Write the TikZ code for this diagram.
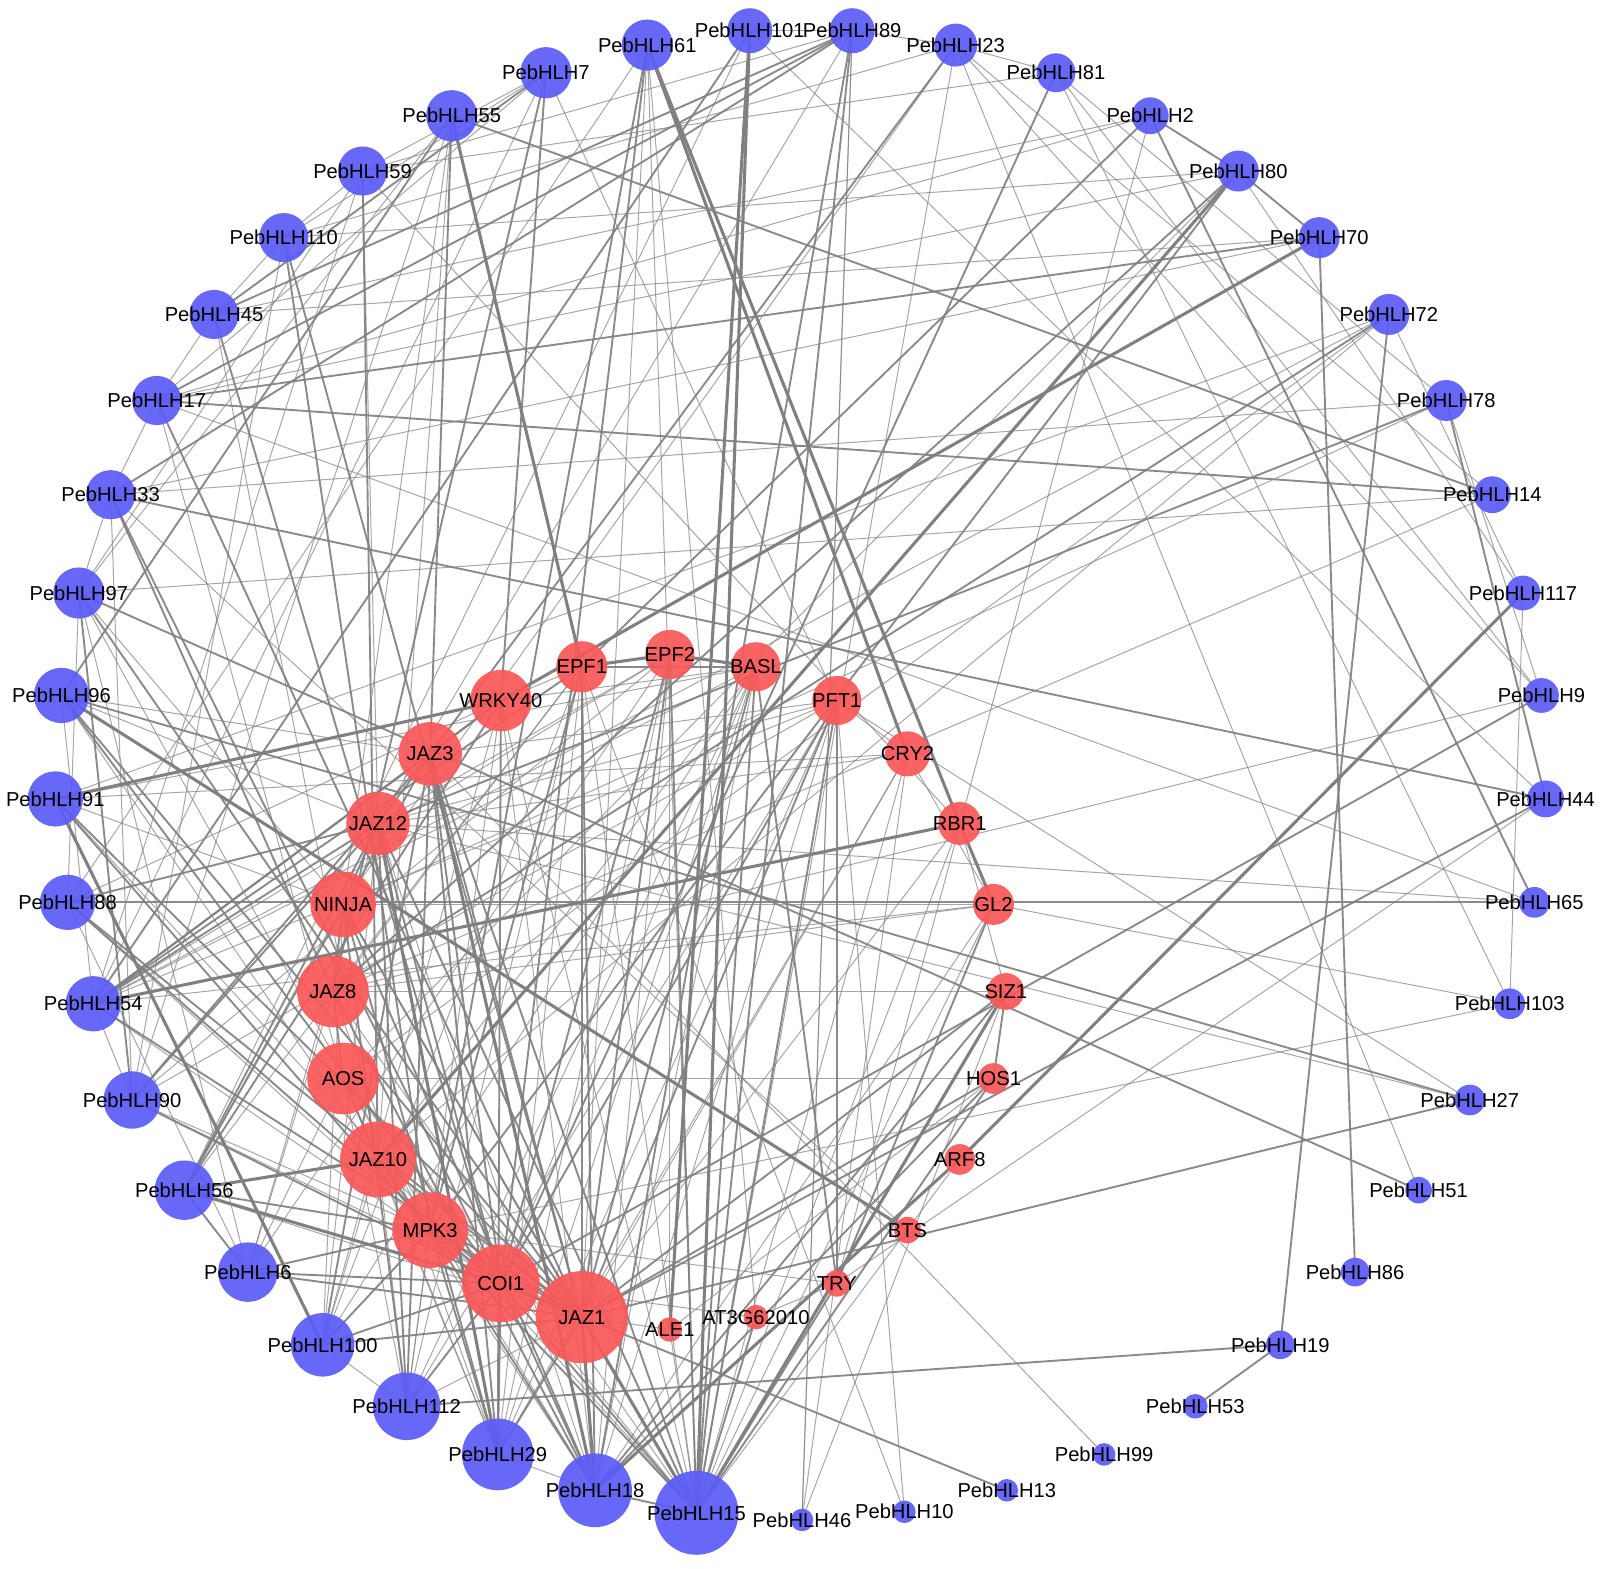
\documentclass[tikz,border=0pt]{standalone}
\usepackage{fontspec}
\setmainfont{Liberation Sans}
\usetikzlibrary{backgrounds}
\definecolor{hlhblue}{RGB}{92,92,248}
\definecolor{genered}{RGB}{250,88,88}
\definecolor{edgegray}{RGB}{128,128,128}
\tikzstyle{hlh} = [circle, fill=hlhblue, fill opacity=0.93, draw=none, inner sep=0pt]
\tikzstyle{gene} = [circle, fill=genered, fill opacity=0.93, draw=none, inner sep=0pt]
\tikzstyle{lbl} = [font=\fontsize{11.2}{13}\selectfont, text=black, inner sep=0pt]
\tikzstyle{edgeweak} = [draw=edgegray, draw opacity=0.7, line width=0.55pt]
\tikzstyle{edgemid} = [draw=edgegray, draw opacity=0.92, line width=1.05pt]
\tikzstyle{edgestrong} = [draw=edgegray, line width=1.7pt]

%% outer ring: name/x/y/radius/label
\def\hlhlist{h61/632/44/25/PebHLH61, h101/732/30/22/PebHLH101, h89/832/30/22/PebHLH89,
  h23/933/44/21/PebHLH23, h81/1031/71/19/PebHLH81, h2/1123/113/18/PebHLH2,
  h80/1209/167/20/PebHLH80, h70/1288/232/20/PebHLH70, h72/1356/307/20/PebHLH72,
  h78/1412/391/20/PebHLH78, h14/1457/483/18/PebHLH14, h117/1487/579/17/PebHLH117,
  h9/1505/679/17/PebHLH9, h44/1509/780/18/PebHLH44, h65/1498/881/15/PebHLH65,
  h103/1474/980/15/PebHLH103, h27/1435/1074/15/PebHLH27, h51/1385/1162/13/PebHLH51,
  h86/1323/1242/14/PebHLH86, h19/1250/1313/14/PebHLH19, h53/1167/1373/12/PebHLH53,
  h99/1078/1420/11/PebHLH99, h13/983/1455/11/PebHLH13, h10/883/1476/11/PebHLH10,
  h46/783/1484/11/PebHLH46, h15/680/1477/41/PebHLH15, h18/581/1455/36/PebHLH18,
  h29/486/1420/35/PebHLH29, h112/397/1373/33/PebHLH112, h100/315/1313/31/PebHLH100,
  h6/242/1242/29/PebHLH6, h56/180/1162/29/PebHLH56, h90/129/1074/28/PebHLH90,
  h54/91/980/27/PebHLH54, h88/66/881/27/PebHLH88, h91/54/780/27/PebHLH91,
  h96/60/679/27/PebHLH96, h97/77/579/25/PebHLH97, h33/108/483/24/PebHLH33,
  h17/153/391/24/PebHLH17, h45/209/307/24/PebHLH45, h110/277/232/24/PebHLH110,
  h59/354/167/24/PebHLH59, h55/441/113/25/PebHLH55, h7/533/71/25/PebHLH7}

%% inner ring
\def\genelist{epf1/568/651/25/EPF1, epf2/654/639/24/EPF2, basl/738/651/24/BASL,
  pft1/817/684/24/PFT1, cry2/886/736/22/CRY2, rbr1/937/804/21/RBR1,
  gl2/970/883/20/GL2, siz1/982/968/18/SIZ1, hos1/970/1053/15/HOS1,
  arf8/937/1132/15/ARF8, bts/886/1201/13/BTS, try/817/1253/13/TRY,
  at3g/738/1286/12/AT3G62010, ale1/654/1298/12/ALE1, jaz1/568/1286/45/JAZ1,
  coi1/489/1253/38/COI1, mpk3/420/1201/37/MPK3, jaz10/369/1132/37/JAZ10,
  aos/335/1053/35/AOS, jaz8/325/968/35/JAZ8, ninja/335/883/32/NINJA,
  jaz12/369/804/31/JAZ12, jaz3/420/736/31/JAZ3, wrky/489/684/30/WRKY40}

\begin{document}
\begin{tikzpicture}[x=0.02cm, y=-0.02cm]
    \useasboundingbox (0,0) rectangle (1568,1531);

    \foreach \n/\x/\y/\r/\lab in \hlhlist
        \node[hlh, minimum size=\r*0.04cm] (\n) at (\x,\y) {};
    \foreach \n/\x/\y/\r/\lab in \genelist
        \node[gene, minimum size=\r*0.04cm] (\n) at (\x,\y) {};

    \begin{pgfonlayer}{background}
    %% weak links
    \foreach \a/\b in {h61/h88, h61/at3g, h61/jaz1, h101/h89, h101/h44, h101/h56, h89/h23,
        h89/h59, h89/h46, h89/jaz12, h23/h81, h23/h51, h23/h14,
        h23/ninja, h23/h15, h23/h110, h81/h78, h81/h103, h81/h9, h81/h59, h2/h17, h2/try,
        h2/h45, h80/h17, h80/aos, h80/h117, h70/h33, h72/h91, h72/aos, h72/jaz10, h72/h54,
        h78/h9, h78/ninja, h78/h33, h14/jaz8, h14/h97, h117/h103, h117/h72, h9/h23, h9/jaz8,
        h44/try, h65/h17, h65/jaz12, h103/mpk3, h103/gl2, h27/pft1, h27/jaz12, h99/jaz3,
        h10/pft1, h10/epf1, h46/h89, h46/siz1, h46/cry2, h15/aos, h15/jaz8, h15/ninja,
        h15/wrky, h15/jaz10, h15/epf1, h15/gl2, h15/h61, h15/cry2, h15/rbr1, h15/arf8,
        h15/ale1, h18/jaz10, h18/aos, h18/jaz12, h18/wrky, h18/epf2, h18/basl, h18/pft1,
        h18/gl2, h29/jaz10, h29/aos, h29/jaz8, h29/epf1, h29/epf2, h29/pft1, h29/basl,
        h29/cry2, h29/h18, h112/jaz1, h112/mpk3, h112/jaz10, h112/aos, h112/wrky,
        h112/epf1, h112/pft1, h112/basl, h112/h100, h100/jaz10, h100/jaz12, h100/ninja,
        h100/wrky, h100/epf1, h100/basl, h6/aos, h6/jaz8, h6/h97, h6/h88, h6/jaz12, h6/epf2,
        h56/jaz1, h56/ninja, h56/epf1, h90/jaz1, h90/mpk3, h90/h55, h90/h33, h90/h110,
        h90/epf2, h90/pft1, h54/epf2, h54/basl, h54/pft1, h54/coi1, h54/gl2, h54/h90,
        h54/h59, h88/mpk3, h88/h97, h88/wrky, h91/coi1, h91/ninja, h91/cry2, h91/basl,
        h96/jaz3, h96/jaz10, h96/jaz12, h96/h54, h97/mpk3, h97/ninja, h97/h33, h97/h59,
        h33/bts, h33/h17, h17/aos, h17/h45, h45/h110, h45/jaz10, h45/h70, h110/h80,
        h110/h59, h59/rbr1, h59/jaz12, h55/h97, h55/jaz10, h55/ninja, h7/h17, h7/pft1,
        h7/h54, h7/h59, h7/h110, jaz3/pft1, jaz12/pft1, jaz12/cry2, ninja/gl2, jaz8/gl2,
        jaz8/siz1, aos/hos1, mpk3/try, coi1/at3g, coi1/basl, jaz1/cry2, jaz1/rbr1,
        wrky/epf1, wrky/basl, epf2/ale1, epf2/jaz12, epf1/jaz8, basl/jaz10, pft1/cry2,
        cry2/gl2, rbr1/siz1, hos1/ale1, try/at3g, ale1/jaz1}
        \draw[edgeweak] (\a.center) -- (\b.center);
    %% medium links
    \foreach \a/\b in {h61/coi1, h61/mpk3, h89/h15, h89/h18, h89/h45, h89/h17, h89/h33,
        h101/h54, h23/jaz3, h81/coi1,
        h80/jaz8, h80/mpk3, h80/h70, h2/h80, h2/epf1, h70/h86, h70/h17, h72/jaz8, h72/h19,
        h78/h44, h78/jaz12, h14/h55, h44/h33, h44/jaz1, h9/coi1, h65/h88, h65/h2,
        h27/jaz1, h27/h96, h51/h97, h19/h53, h19/h112, h13/jaz1, h100/jaz1, h100/coi1,
        h100/mpk3, h100/jaz3, h112/coi1, h112/jaz12, h112/ninja, h112/jaz3, h29/jaz1,
        h29/coi1, h29/mpk3, h29/jaz3, h29/wrky, h29/ninja, h18/coi1, h18/mpk3, h18/ninja,
        h18/jaz8, h18/epf1, h18/siz1, h18/hos1, h15/coi1, h15/mpk3, h15/jaz3, h15/jaz12,
        h15/epf2, h15/basl, h15/pft1, h15/hos1, h15/at3g, h15/try, h15/h18, h56/jaz12,
        h56/jaz3, h56/wrky, h56/mpk3, h6/jaz1, h6/coi1, h6/mpk3, h6/h56, h90/jaz12,
        h90/coi1, h90/jaz3, h54/jaz12, h54/jaz3, h54/wrky, h54/epf1, h54/jaz1, h88/jaz1,
        h88/coi1, h88/jaz12, h91/mpk3, h91/jaz1, h96/jaz1, h96/coi1, h97/jaz1, h97/h90,
        h33/coi1, h33/jaz8, h17/jaz1, h17/h14, h45/coi1, h45/h7, h110/mpk3, h110/jaz1,
        h59/jaz10, h55/jaz3, h55/h96, h7/jaz8, h7/wrky, jaz1/mpk3, jaz1/jaz10, jaz1/jaz3,
        jaz1/ninja, coi1/jaz3, coi1/jaz12, coi1/mpk3, mpk3/jaz10, jaz10/aos, aos/jaz8,
        jaz8/ninja, ninja/jaz12, jaz12/jaz3, jaz3/wrky, basl/try, pft1/try, siz1/hos1,
        epf1/basl, jaz1/epf1, jaz1/epf2, jaz1/basl, jaz1/pft1, coi1/epf2, coi1/pft1,
        mpk3/epf1, hos1/jaz1, siz1/jaz1, gl2/try}
        \draw[edgemid] (\a.center) -- (\b.center);
    %% strong links
    \foreach \a/\b in {h61/cry2, h61/rbr1, rbr1/gl2, h55/epf1, h101/ale1, h101/h15,
        h96/bts, h91/wrky, h54/rbr1, h56/jaz10, h56/coi1, h117/arf8, arf8/h18, h91/h100,
        h70/wrky, h80/jaz10, siz1/h15, jaz1/coi1, jaz3/h18, jaz12/h29, h15/jaz1, h18/jaz1,
        epf1/epf2, epf2/basl}
        \draw[edgestrong] (\a.center) -- (\b.center);
    \end{pgfonlayer}

    %% labels on top
    \foreach \n/\x/\y/\r/\lab in \hlhlist
        \node[lbl] (l\n) at (\n) {\lab};
    \foreach \n/\x/\y/\r/\lab in \genelist
        \node[lbl] (l\n) at (\n) {\lab};
\end{tikzpicture}
\end{document}
